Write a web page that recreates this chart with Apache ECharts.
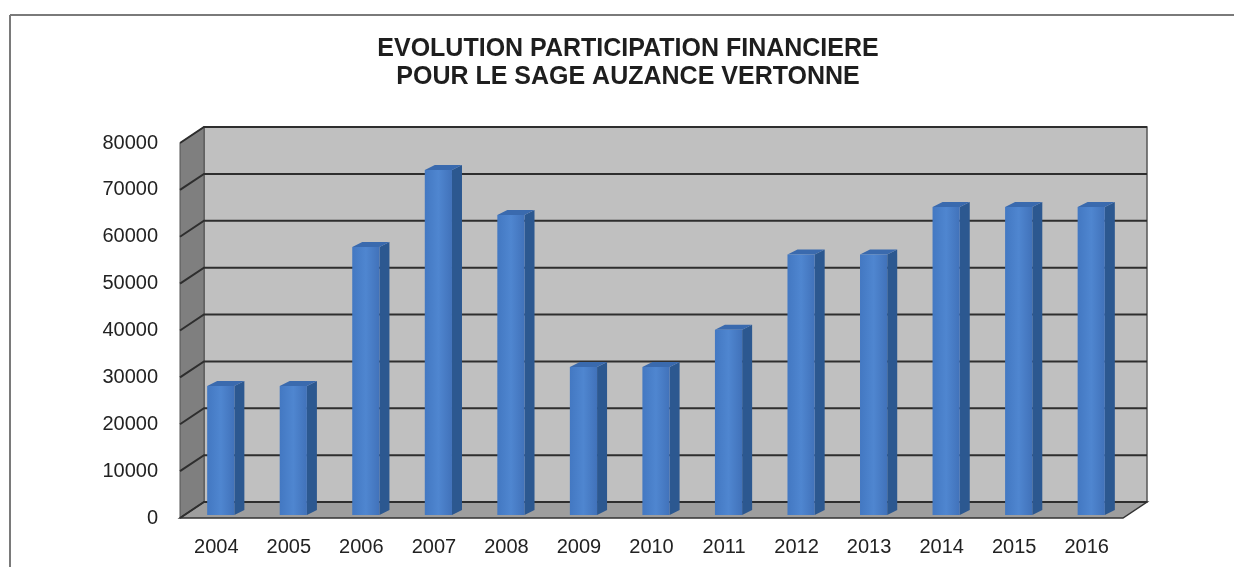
<!DOCTYPE html>
<html>
<head>
<meta charset="utf-8">
<script src="https://cdn.jsdelivr.net/npm/echarts@6/dist/echarts.min.js"></script>
<style>
  html, body { margin: 0; padding: 0; background: #fff; }
  #chart { width: 1234px; height: 567px; }
</style>
</head>
<body>
<div id="chart"></div>
<script>
// données
const years = ['2004', '2005', '2006', '2007', '2008', '2009', '2010', '2011', '2012', '2013', '2014', '2015', '2016'];
const montants = [27500, 27500, 57200, 73600, 64000, 31600, 31600, 39500, 55600, 55600, 65700, 65700, 65700];
const yTicks = [0, 10000, 20000, 30000, 40000, 50000, 60000, 70000, 80000];

// profondeur de la "boite" 3D (mur du fond) et des barres
const DX = 24, DY = -16;
const BX = 4.5, BY = -3;
const DDX = 10, DDY = -5;

const chart = echarts.init(document.getElementById('chart'));

function renderFrame(params, api) {
  const cs = params.coordSys;
  const x0 = cs.x, y0 = cs.y, w = cs.width, h = cs.height;
  const yb = y0 + h;
  const children = [];
  // mur du fond
  children.push({
    type: 'rect',
    shape: { x: x0 + DX, y: y0 + DY, width: w, height: h },
    style: { fill: '#c0c0c0', stroke: '#555', lineWidth: 1.5 }
  });
  // mur gauche
  children.push({
    type: 'polygon',
    shape: { points: [[x0, y0], [x0 + DX, y0 + DY], [x0 + DX, yb + DY], [x0, yb]] },
    style: { fill: '#7f7f7f', stroke: '#555', lineWidth: 1 }
  });
  // sol
  children.push({
    type: 'polygon',
    shape: { points: [[x0, yb], [x0 + w, yb], [x0 + w + DX, yb + DY], [x0 + DX, yb + DY]] },
    style: { fill: '#9e9e9e', stroke: '#333', lineWidth: 1.5 }
  });
  yTicks.forEach(function (v) {
    const py = api.coord([0, v])[1];
    children.push({
      type: 'polyline',
      shape: { points: [[x0, py], [x0 + DX, py + DY], [x0 + w + DX, py + DY]] },
      style: { stroke: '#2e2e2e', lineWidth: 2, fill: null }
    });
  });
  return { type: 'group', children: children };
}

function renderBar(params, api) {
  const i = api.value(0), v = api.value(1);
  const base = api.coord([i, 0]);
  const top = api.coord([i, v]);
  const bw = api.size([1, 0])[0] * 0.375;
  const x = base[0] - bw / 2 + BX;
  const yT = top[1] + BY, yB = base[1] + BY;
  return {
    type: 'group',
    children: [
      {
        type: 'polygon',
        shape: { points: [[x + bw, yT], [x + bw + DDX, yT + DDY], [x + bw + DDX, yB + DDY], [x + bw, yB]] },
        style: { fill: '#2c5890' }
      },
      {
        type: 'polygon',
        shape: { points: [[x, yT], [x + DDX, yT + DDY], [x + bw + DDX, yT + DDY], [x + bw, yT]] },
        style: { fill: '#3a6aae' }
      },
      {
        type: 'rect',
        shape: { x: x, y: yT, width: bw, height: yB - yT },
        style: {
          fill: new echarts.graphic.LinearGradient(0, 0, 1, 0, [
            { offset: 0, color: '#4378c2' },
            { offset: 0.5, color: '#4f86d0' },
            { offset: 1, color: '#4172ba' }
          ])
        }
      }
    ]
  };
}

const option = {
  backgroundColor: '#fff',
  animation: false,
  title: {
    text: 'EVOLUTION PARTICIPATION FINANCIERE\nPOUR LE SAGE AUZANCE VERTONNE',
    left: 623,
    top: 30,
    textAlign: 'center',
    textStyle: {
      fontFamily: 'Liberation Sans, Arial, sans-serif',
      fontSize: 25,
      fontWeight: 'bold',
      color: '#1e1e1e',
      lineHeight: 28
    }
  },
  graphic: [
    { type: 'line', shape: { x1: 10, y1: 15, x2: 1234, y2: 15 }, style: { stroke: '#7a7a7a', lineWidth: 2 } },
    { type: 'line', shape: { x1: 10, y1: 15, x2: 10, y2: 567 }, style: { stroke: '#7a7a7a', lineWidth: 2 } }
  ],
  grid: { left: 180, right: 111, top: 143, bottom: 49 },
  xAxis: {
    type: 'category',
    data: years,
    axisLine: { show: false },
    axisTick: { show: false },
    axisLabel: {
      margin: 19,
      fontFamily: 'Liberation Sans, Arial, sans-serif',
      fontSize: 20,
      color: '#222'
    }
  },
  yAxis: {
    type: 'value',
    min: 0,
    max: 80000,
    interval: 10000,
    axisLine: { show: false },
    axisTick: { show: false },
    splitLine: { show: false },
    axisLabel: {
      margin: 22,
      formatter: function (v) { return String(v); },
      fontFamily: 'Liberation Sans, Arial, sans-serif',
      fontSize: 20,
      color: '#222'
    }
  },
  series: [
    {
      type: 'custom',
      name: 'cadre',
      renderItem: renderFrame,
      data: [[0, 0]],
      clip: false,
      silent: true,
      z: 1
    },
    {
      type: 'custom',
      name: 'Participation',
      renderItem: renderBar,
      data: montants.map(function (v, i) { return [i, v]; }),
      encode: { x: 0, y: 1 },
      clip: false,
      z: 2
    }
  ]
};

chart.setOption(option);
</script>
</body>
</html>
